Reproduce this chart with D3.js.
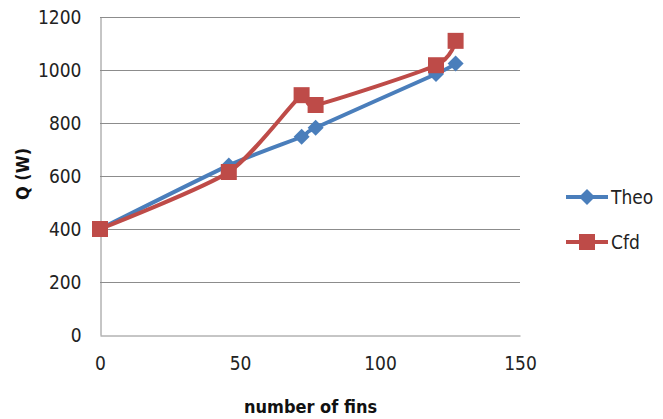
<!DOCTYPE html>
<html><head><meta charset="utf-8">
<script src="https://cdn.jsdelivr.net/npm/d3@7"></script>
<style>body{margin:0;background:#fff}svg{display:block}</style>
</head><body>
<svg id="c" width="663" height="419"></svg>
<script>
const xTicks = [0, 50, 100, 150];
const yTicks = [0, 200, 400, 600, 800, 1000, 1200];
const finsTheo = [0, 46, 72, 77, 120, 127];
const qTheo = [400, 640, 748, 782, 985, 1025];
const finsCfd = [0, 46, 72, 77, 120, 127];
const qCfd = [400, 615, 905, 868, 1018, 1110];
const seriesNames = ["Theo", "Cfd"];
const colors = ["#4A7EBB", "#BE4B48"];

const svg = d3.select("#c");
const font = "'DejaVu Sans Condensed', 'Liberation Sans Narrow', sans-serif";
const fs = 19;
const x = d3.scaleLinear().domain([0, 150]).range([100, 520]);
const y = d3.scaleLinear().domain([0, 1200]).range([335, 17]);

// gridlines
svg.append("g").selectAll("line").data(yTicks.filter(d => d > 0)).join("line")
  .attr("x1", 100).attr("x2", 520).attr("y1", d => y(d) + 0.5).attr("y2", d => y(d) + 0.5)
  .attr("stroke", "#8c8c8c").attr("stroke-width", 1);

// axes
const yAxis = d3.axisLeft(y).tickValues(yTicks).tickFormat(d3.format("d")).tickSize(0).tickPadding(19);
const gy = svg.append("g").attr("transform", "translate(100.5,0)").call(yAxis);
gy.select(".domain").attr("stroke", "#8c8c8c");
gy.selectAll("text").attr("font-family", font).attr("font-size", fs).attr("fill", "#222");

const xAxis = d3.axisBottom(x).tickValues(xTicks).tickFormat(d3.format("d")).tickSize(0).tickPadding(21);
const gx = svg.append("g").attr("transform", "translate(0,335.5)").call(xAxis);
gx.select(".domain").attr("stroke", "#8c8c8c");
gx.selectAll("text").attr("font-family", font).attr("font-size", fs).attr("fill", "#222");

// axis titles
svg.append("text").attr("x", 310.5).attr("y", 413).attr("text-anchor", "middle")
  .attr("font-family", font).attr("font-weight", "bold").attr("font-size", 18).attr("fill", "#111")
  .text("number of fins");
svg.append("text").attr("transform", "translate(29,174) rotate(-90)").attr("text-anchor", "middle")
  .attr("font-family", font).attr("font-weight", "bold").attr("font-size", 18).attr("fill", "#111")
  .text("Q (W)");

const data = [
  finsTheo.map((f, i) => ({x: f, y: qTheo[i]})),
  finsCfd.map((f, i) => ({x: f, y: qCfd[i]}))
];
const line = d3.line().x(d => x(d.x)).y(d => y(d.y)).curve(d3.curveCardinal.tension(0.3));

const diamond = s => `M0,${-s}L${s},0L0,${s}L${-s},0Z`;
const square = s => `M${-s},${-s}H${s}V${s}H${-s}Z`;
const shapes = [diamond(8), square(8)];

data.forEach((ser, k) => {
  svg.append("path").attr("d", line(ser)).attr("fill", "none")
    .attr("stroke", colors[k]).attr("stroke-width", 4).attr("stroke-linejoin", "round");
  svg.append("g").selectAll("path").data(ser).join("path")
    .attr("transform", d => `translate(${x(d.x)},${y(d.y)})`)
    .attr("d", shapes[k]).attr("fill", colors[k]);
});

// legend
const legY = [197, 242];
seriesNames.forEach((n, k) => {
  const g = svg.append("g");
  g.append("line").attr("x1", 566).attr("x2", 608).attr("y1", legY[k]).attr("y2", legY[k])
    .attr("stroke", colors[k]).attr("stroke-width", 4);
  g.append("path").attr("transform", `translate(587,${legY[k]})`).attr("d", shapes[k]).attr("fill", colors[k]);
  g.append("text").attr("x", 611).attr("y", legY[k] + 7).attr("font-family", font)
    .attr("font-size", fs).attr("fill", "#222").text(n);
});
</script>
</body></html>
